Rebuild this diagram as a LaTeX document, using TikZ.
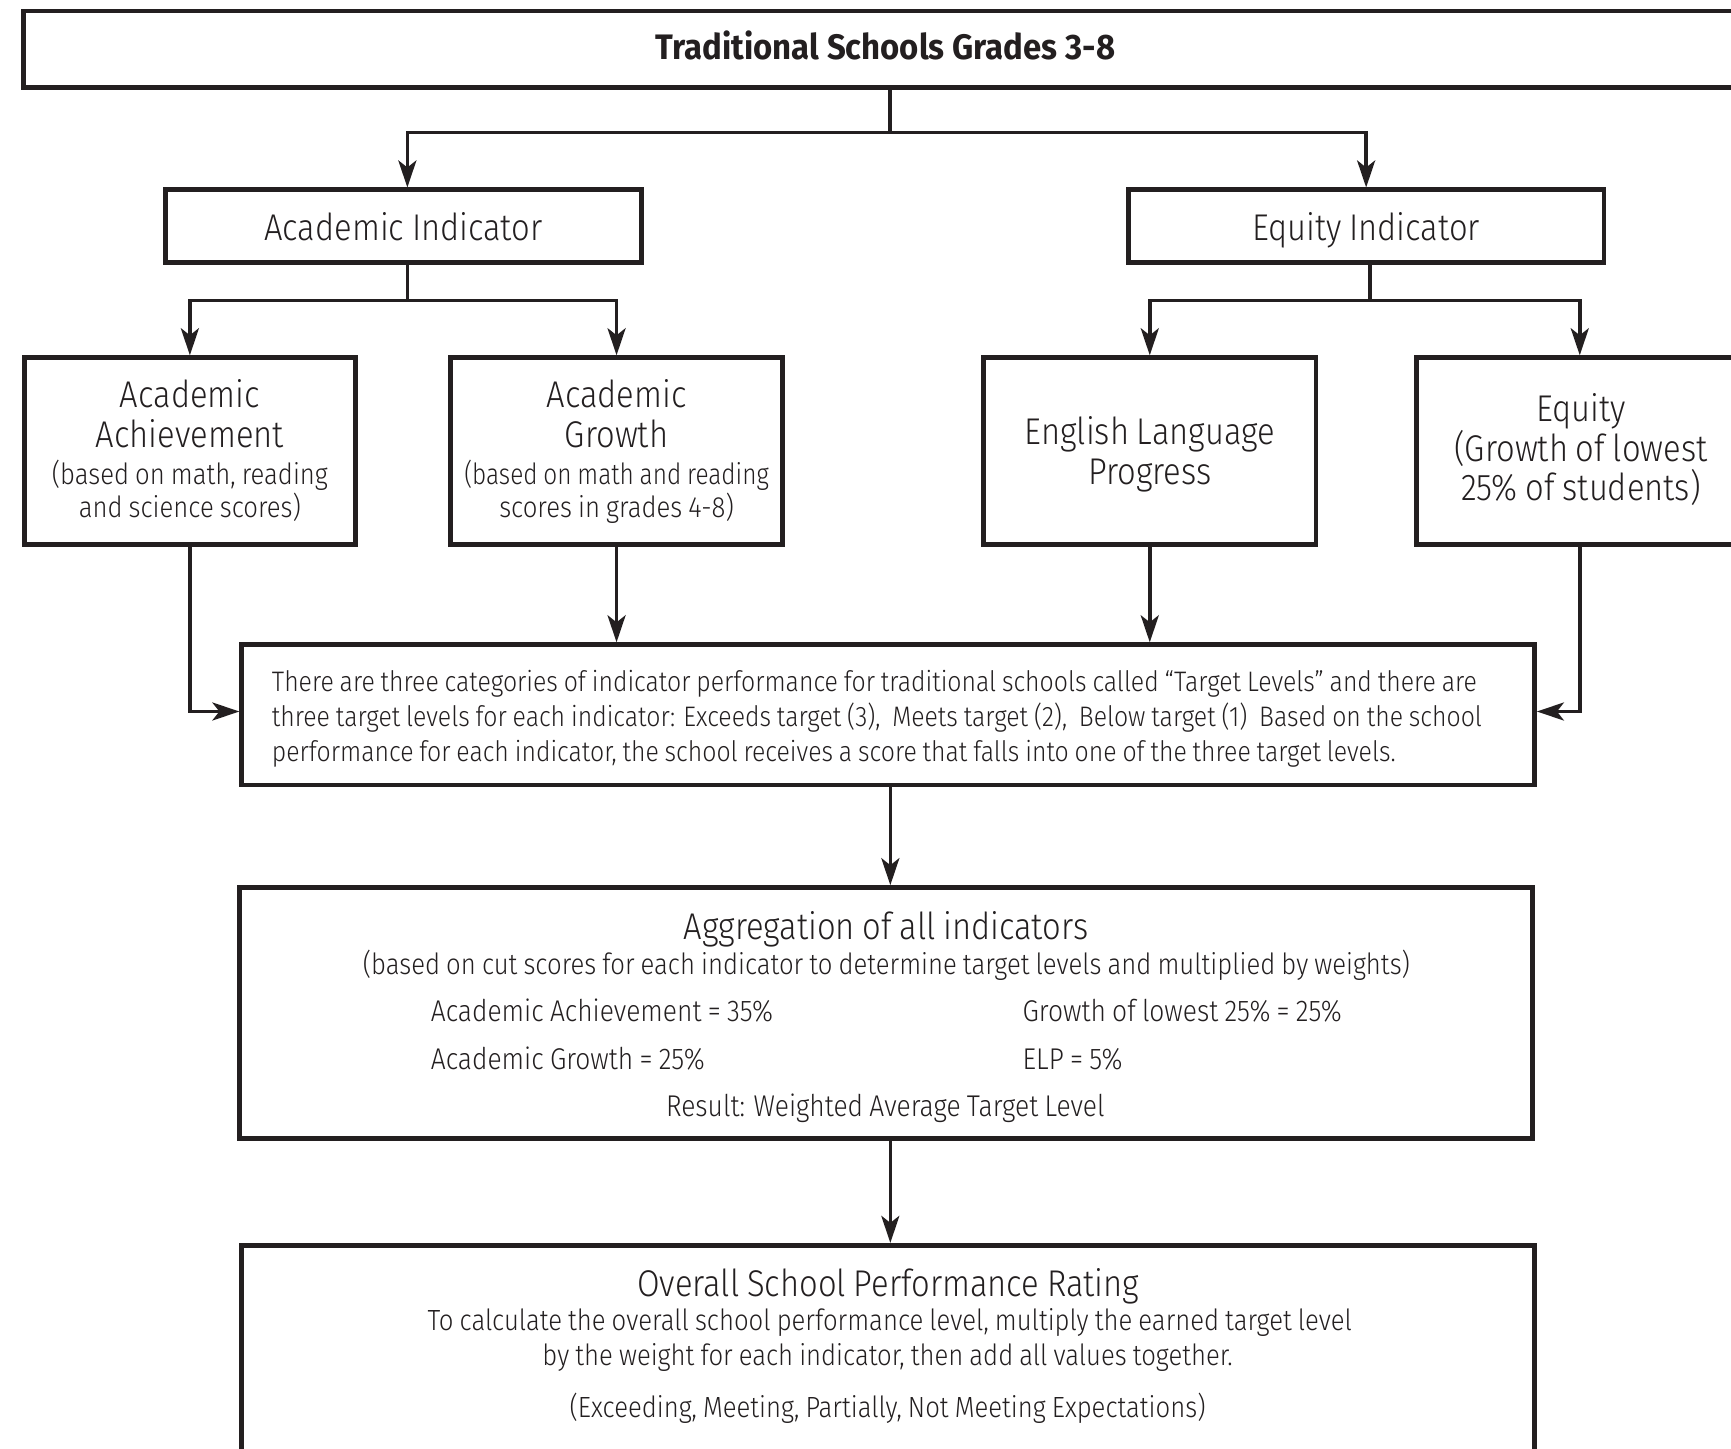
\documentclass[tikz,border=0pt]{standalone}
\usepackage{fontspec}
\IfFontExistsTF{Fira Sans Light}{\setmainfont{Fira Sans Light}[FakeStretch=0.88, WordSpace=0.85]}{\setmainfont{Fira Sans}[FakeStretch=0.86, WordSpace=0.85]}
\newfontfamily\titlefont{Fira Sans}[FakeStretch=0.93]
\usetikzlibrary{arrows.meta,calc}
\definecolor{ink}{HTML}{231F20}
\newcommand\unitpx{0.552pt}
\newcommand\fbig{\fontsize{18.6}{21}\selectfont}
\newcommand\fsub{\fontsize{14.6}{17}\selectfont}
\newcommand\fent{\fontsize{15}{17}\selectfont}
\newcommand\ftgt{\fontsize{14.1}{16}\selectfont}
\newcommand\ftitle{\titlefont\fontsize{17.7}{19}\selectfont\bfseries}
\begin{document}
\begin{tikzpicture}[x=0.552pt,y=-0.552pt,
  box/.style n args={2}{draw=ink, line width=2.4pt, minimum width=#1*\unitpx, minimum height=#2*\unitpx, inner sep=0pt, anchor=center},
  conn/.style={draw=ink, line width=1.8pt},
  arr/.style={conn, -{Stealth[length=13.5pt,width=9pt,inset=3.5pt]}},
  tx/.style={text=ink, anchor=base, inner sep=0pt},
  tbig/.style={tx, font=\fbig},
  tsub/.style={tx, font=\fsub},
  tent/.style={tx, font=\fent, anchor=base west},
  ttgt/.style={tx, font=\ftgt, anchor=base west},
]
\useasboundingbox (0,0) rectangle (1568,1312);
\fill[white] (0,0) rectangle (1568,1312);
\clip (0,0) rectangle (1568,1312);
% boxes
\node[box={1564}{69}] (top) at (803,44.5) {};
\node[tx, font=\ftitle] (toptxt) at (802,54) {Traditional Schools Grades 3-8};
\node[box={431}{66}] (acad) at (365.5,205) {};
\node[tbig] (acadtxt) at (365.5,218) {Academic Indicator};
\node[box={431}{66}] (equi) at (1237.5,205) {};
\node[tbig] (equitxt) at (1237.5,218) {Equity Indicator};
\node[box={300}{169}] (aa) at (172,408.5) {};
\node[tbig] (aa1) at (172,369) {Academic};
\node[tbig] (aa2) at (172,405) {Achievement};
\node[tsub] (aa3) at (172,439) {(based on math, reading};
\node[tsub] (aa4) at (172,469) {and science scores)};
\node[box={301}{169}] (ag) at (558.5,408.5) {};
\node[tbig] (ag1) at (558.5,369) {Academic};
\node[tbig] (ag2) at (558.5,405) {Growth};
\node[tsub] (ag3) at (558.5,439) {\scalebox{0.95}[1]{(based on math and reading}};
\node[tsub] (ag4) at (558.5,469) {scores in grades 4-8)};
\node[box={301}{169}] (elp) at (1041.5,408.5) {};
\node[tbig] (elp1) at (1041.5,403) {English Language};
\node[tbig] (elp2) at (1041.5,439) {Progress};
\node[box={300}{169}] (eq) at (1433,408.5) {};
\node[tbig] (eq1) at (1432,382) {Equity};
\node[tbig] (eq2) at (1432,418) {(Growth of lowest};
\node[tbig] (eq3) at (1432,453) {25\% of students)};
\node[box={1171}{127}] (tgt) at (804.5,647.5) {};
\node[ttgt] (tg1) at (246,626) {There are three categories of indicator performance for traditional schools called “Target Levels” and there are};
\node[ttgt] (tg2) at (246,658) {three target levels for each indicator: Exceeds target (3),\ \ Meets target (2),\ \ Below target (1)\ \ Based on the school};
\node[ttgt] (tg3) at (246,690) {performance for each indicator, the school receives a score that falls into one of the three target levels.};
\node[box={1171}{227}] (agg) at (802.5,917.5) {};
\node[tbig] (ag0) at (802.5,851) {Aggregation of all indicators};
\node[tsub] (agsub) at (803,883) {(based on cut scores for each indicator to determine target levels and multiplied by weights)};
\node[tent] (w1) at (390,925) {Academic Achievement = 35\%};
\node[tent] (w2) at (926,925) {Growth of lowest 25\% = 25\%};
\node[tent] (w3) at (390,969) {Academic Growth = 25\%};
\node[tent] (w4) at (926,969) {ELP = 5\%};
\node[tx, font=\fent] (res) at (802,1011) {Result: Weighted Average Target Level};
\node[box={1171}{212}] (ovr) at (804.5,1234) {};
\node[tbig] (ov0) at (804.5,1174) {Overall School Performance Rating};
\node[tsub] (ov1) at (806,1205) {To calculate the overall school performance level, multiply the earned target level};
\node[tsub] (ov2) at (804,1237) {by the weight for each indicator, then add all values together.};
\node[tsub] (ov3) at (804,1284) {(Exceeding, Meeting, Partially, Not Meeting Expectations)};
% connectors
\draw[conn] ($(top.south)+(3,0)$) -- ++(0,39) coordinate (j1);
\draw[arr] (j1) -| ($(acad.north)+(3.5,0)$);
\draw[arr] (j1) -| (equi.north);
\draw[conn] ($(acad.south)+(3.5,0)$) -- ++(0,32) coordinate (j2);
\draw[arr] (j2) -| (aa.north);
\draw[arr] (j2) -| (ag.north);
\draw[conn] ($(equi.south)+(3.5,0)$) -- ++(0,32) coordinate (j3);
\draw[arr] (j3) -| (elp.north);
\draw[arr] (j3) -| ($(eq.north)+(-2,0)$);
\draw[arr] (aa.south) |- ($(tgt.west)+(0,-3)$);
\draw[arr] (ag.south) -- (ag.south |- tgt.north);
\draw[arr] (elp.south) -- (elp.south |- tgt.north);
\draw[arr] ($(eq.south)+(-2,0)$) |- ($(tgt.east)+(0,-3)$);
\draw[arr] ($(tgt.south)+(2,0)$) -- ($(tgt.south |- agg.north)+(2,0)$);
\draw[arr] ($(agg.south)+(4,0)$) -- ($(agg.south |- ovr.north)+(4,0)$);
\end{tikzpicture}
\end{document}
